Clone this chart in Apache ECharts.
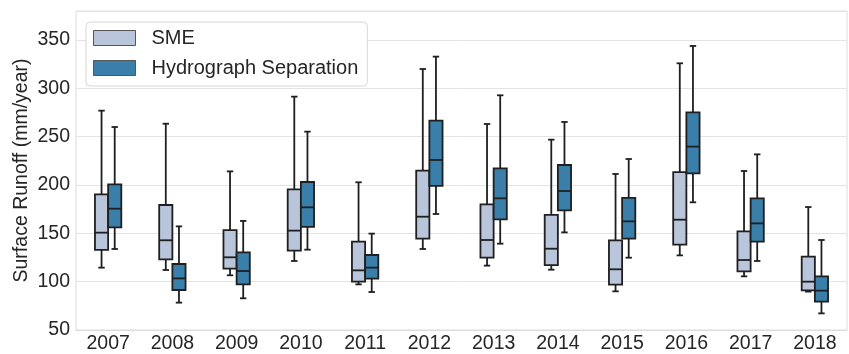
<!DOCTYPE html>
<html>
<head>
<meta charset="utf-8">
<script src="https://cdn.jsdelivr.net/npm/echarts@6/dist/echarts.min.js"></script>
<style>
  html, body { margin: 0; padding: 0; background: #fff; }
  #chart { width: 849px; height: 354px; }
</style>
</head>
<body>
<div id="chart"></div>
<script>
// Years on the x axis
var years = ['2007', '2008', '2009', '2010', '2011', '2012', '2013', '2014', '2015', '2016', '2017', '2018'];

// Box statistics per year: [lower whisker, Q1, median, Q3, upper whisker] (mm/year)
var smeStats = [
  [114.5, 132.8, 150.7, 190.3, 276.9],
  [112.1, 123.1, 142.8, 179.3, 263.4],
  [106.6, 113.4, 125.2, 153.4, 214.1],
  [121.4, 132.1, 152.8, 195.5, 291.4],
  [97.2, 100.0, 111.7, 141.4, 202.8],
  [133.8, 144.5, 167.2, 214.8, 320.0],
  [116.6, 124.8, 143.1, 180.0, 263.1],
  [112.4, 117.2, 134.1, 169.0, 246.9],
  [90.0, 96.9, 112.8, 142.8, 211.4],
  [127.2, 138.3, 164.1, 213.4, 325.9],
  [105.5, 110.7, 122.4, 152.1, 214.5],
  [89.7, 91.0, 100.0, 125.9, 177.2]
];
var hydroStats = [
  [133.8, 156.2, 175.5, 200.7, 260.0],
  [78.3, 91.4, 103.4, 118.3, 157.2],
  [82.8, 97.2, 111.0, 130.3, 162.8],
  [133.1, 156.6, 176.9, 203.1, 255.2],
  [89.3, 103.1, 114.5, 127.6, 149.7],
  [170.0, 199.0, 225.9, 266.6, 332.8],
  [139.3, 164.5, 186.2, 217.2, 292.8],
  [151.0, 173.8, 193.8, 220.7, 265.2],
  [124.8, 144.5, 162.4, 186.6, 226.9],
  [182.1, 212.1, 239.7, 275.2, 343.8],
  [121.4, 141.4, 160.3, 186.2, 231.7],
  [67.2, 79.3, 90.7, 105.5, 143.1]
];

// Value axis ticks
var yTicks = [50, 100, 150, 200, 250, 300, 350];

var seriesNames = ['SME', 'Hydrograph Separation'];
var smeColor = '#b9c5da';
var hydroColor = '#3a7fa9';
var edgeColor = '#1f1f1f';

function toRows(stats) {
  return stats.map(function (s, i) { return [i].concat(s); });
}

// Draws one box with whiskers; side = -1 (left of the year) or +1 (right)
function boxRenderer(side, fill) {
  return function (params, api) {
    var cat = api.value(0);
    var band = api.size([1, 0])[0];
    var w = band * 0.205;
    var cx = api.coord([cat, 0])[0] + side * w / 2;
    var yLo = api.coord([cat, api.value(1)])[1];
    var yQ1 = api.coord([cat, api.value(2)])[1];
    var yMed = api.coord([cat, api.value(3)])[1];
    var yQ3 = api.coord([cat, api.value(4)])[1];
    var yHi = api.coord([cat, api.value(5)])[1];
    var cap = 3.2;
    var lineStyle = { stroke: edgeColor, lineWidth: 1.8 };
    return {
      type: 'group',
      children: [
        { type: 'line', shape: { x1: cx, y1: yQ3, x2: cx, y2: yHi }, style: lineStyle },
        { type: 'line', shape: { x1: cx, y1: yQ1, x2: cx, y2: yLo }, style: lineStyle },
        { type: 'line', shape: { x1: cx - cap, y1: yHi, x2: cx + cap, y2: yHi }, style: lineStyle },
        { type: 'line', shape: { x1: cx - cap, y1: yLo, x2: cx + cap, y2: yLo }, style: lineStyle },
        { type: 'rect', shape: { x: cx - w / 2, y: yQ3, width: w, height: yQ1 - yQ3 },
          style: { fill: fill, stroke: edgeColor, lineWidth: 1.8 } },
        { type: 'line', shape: { x1: cx - w / 2, y1: yMed, x2: cx + w / 2, y2: yMed }, style: lineStyle }
      ]
    };
  };
}

var chart = echarts.init(document.getElementById('chart'), null, { renderer: 'canvas' });
var fontFamily = 'Liberation Sans, Arial, sans-serif';

chart.setOption({
  animation: false,
  backgroundColor: '#ffffff',
  textStyle: { fontFamily: fontFamily },
  grid: {
    left: 76, top: 11, right: 2, bottom: 24,
    show: true, borderColor: '#dcdcdc', borderWidth: 1
  },
  legend: {
    orient: 'vertical',
    left: 86, top: 22,
    padding: [6, 9, 8, 7],
    itemWidth: 42, itemHeight: 15, itemGap: 10,
    backgroundColor: '#ffffff',
    borderColor: '#d6d6d6', borderWidth: 1, borderRadius: 4,
    textStyle: { fontSize: 20, color: '#262626', fontFamily: fontFamily, padding: [0, 0, 0, 11] },
    data: [
      { name: seriesNames[0], icon: 'rect', itemStyle: { color: smeColor, borderColor: '#555', borderWidth: 1 } },
      { name: seriesNames[1], icon: 'rect', itemStyle: { color: hydroColor, borderColor: '#555', borderWidth: 1 } }
    ]
  },
  xAxis: {
    type: 'category',
    data: years,
    boundaryGap: true,
    axisLine: { show: true, lineStyle: { color: '#dcdcdc' } },
    axisTick: { show: false },
    axisLabel: { fontSize: 19.5, color: '#262626', margin: 4, fontFamily: fontFamily },
    splitLine: { show: false }
  },
  yAxis: {
    type: 'value',
    min: 50, max: 380, interval: 50,
    name: 'Surface Runoff (mm/year)',
    nameLocation: 'middle',
    nameGap: 44,
    nameMoveOverlap: false,
    nameTextStyle: { fontSize: 19.5, color: '#262626', fontFamily: fontFamily },
    axisLine: { show: false },
    axisTick: { show: false },
    axisLabel: {
      fontSize: 19.5, color: '#262626', margin: 6, fontFamily: fontFamily,
      formatter: function (v) { return yTicks.indexOf(v) >= 0 ? String(v) : ''; }
    },
    splitLine: { show: true, lineStyle: { color: '#e3e3e3', width: 1 } }
  },
  series: [
    {
      name: seriesNames[0],
      type: 'custom',
      renderItem: boxRenderer(-1, smeColor),
      itemStyle: { color: smeColor },
      encode: { x: 0, y: [1, 2, 3, 4, 5] },
      data: toRows(smeStats),
      z: 3
    },
    {
      name: seriesNames[1],
      type: 'custom',
      renderItem: boxRenderer(1, hydroColor),
      itemStyle: { color: hydroColor },
      encode: { x: 0, y: [1, 2, 3, 4, 5] },
      data: toRows(hydroStats),
      z: 3
    }
  ]
});
</script>
</body>
</html>
